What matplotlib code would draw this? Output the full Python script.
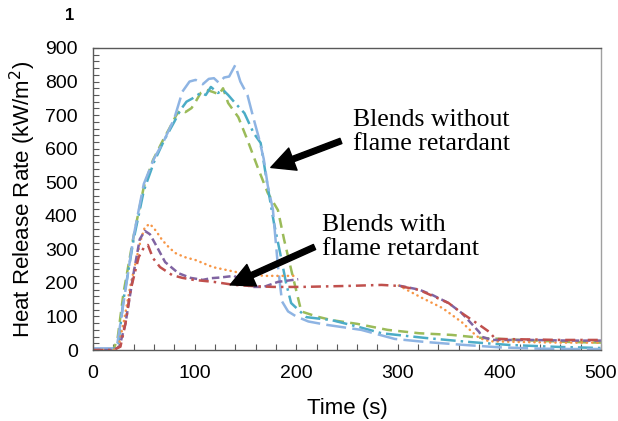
import numpy as np
import matplotlib.pyplot as plt
from matplotlib.ticker import MultipleLocator

nan = np.nan

# blends without flame retardant
t_blue = [0, 10, 20, 24, 30, 40, 50, 60, 70, 80, 88, 95, 101, 108, 114, 119, 124, 129, 134, 140,
          145, 152, 158, 163, 168, 172, 177, 182, 186, 192, 200, 212, 230, 264, 297, 327, 366, 400, 440, 470, 500]
v_blue = [5, 5, 5, 20, 140, 340, 495, 570, 625, 690, 770, 800, 805, 792, 808, 810, 796, 812, 815, 849,
          800, 760, 690, 635, 570, 490, 420, 250, 145, 115, 100, 85, 75, 60, 33, 24, 15, 8, 4, 3, 3]

t_teal = [0, 10, 20, 25, 30, 40, 50, 60, 70, 80, 86, 92, 98, 106, 111, 116, 123, 128, 133, 139,
          149, 158, 165, 172, 178, 185, 190, 195, 202, 210, 235, 260, 284, 327, 370, 410, 460, 500]
v_teal = [0, 0, 2, 20, 150, 330, 475, 560, 625, 680, 715, 740, 750, 766, 760, 784, 766, 775, 760, 739,
          706, 647, 617, 486, 380, 277, 200, 140, 120, 98, 89, 70, 50, 36, 24, 15, 9, 6]

t_green = [0, 10, 20, 24, 30, 40, 50, 59, 69, 76, 82, 86, 91, 97, 101, 106, 112, 118, 124, 128,
           133, 143, 152, 162, 172, 182, 188, 195, 205, 220, 235, 260, 290, 321, 353, 383, 420, 469, 500]
v_green = [0, 0, 2, 30, 170, 340, 486, 566, 626, 665, 700, 715, 709, 721, 740, 766, 775, 769, 762, 780,
           736, 694, 626, 545, 468, 417, 330, 240, 115, 100, 89, 78, 60, 50, 45, 36, 30, 24, 22]

# blends with flame retardant
t_orange = [0, 10, 20, 25, 30, 37, 47, 51, 56, 62, 68, 75, 81, 90, 101, 118, 129, 146, 168, 185, 202,
            250, 301, 324, 344, 363, 373, 380, 390, 420, 460, 500]
v_orange = [0, 0, 0, 10, 80, 195, 328, 366, 376, 355, 328, 305, 289, 277, 268, 247, 240, 229, 221, 221, 221,
            nan, 192, 155, 125, 83, 54, 36, 26, 24, 22, 22]

t_purple = [0, 10, 20, 26, 32, 40, 46, 51, 56, 61, 71, 84, 96, 108, 116, 125, 139, 155, 168, 182, 202,
            250, 301, 321, 334, 350, 363, 380, 383, 393, 430, 470, 500]
v_purple = [0, 0, 0, 10, 80, 230, 330, 355, 345, 318, 262, 229, 215, 209, 214, 216, 221, 188, 188, 203, 211,
            nan, 192, 180, 164, 140, 110, 54, 39, 30, 30, 28, 28]

t_red = [0, 10, 20, 27, 32, 37, 45, 50, 54, 59, 66, 78, 88, 99, 119, 139, 160, 178, 205, 251, 284,
         301, 321, 350, 363, 383, 390, 396, 420, 460, 500]
v_red = [0, 0, 0, 10, 80, 179, 277, 305, 313, 274, 247, 223, 215, 209, 203, 194, 190, 188, 188, 191, 194,
         191, 179, 140, 110, 69, 54, 33, 32, 30, 30]

plt.rcParams['font.family'] = ['Liberation Sans', 'DejaVu Sans']

fig = plt.figure(figsize=(6.18, 4.21), dpi=100)
ax = fig.add_axes([0.1505, 0.1686, 0.822, 0.7174])

lw = 1.8
ax.plot(t_green, v_green, color='#9BBB59', lw=lw, dashes=(4, 2.5))
ax.plot(t_teal, v_teal, color='#4BACC6', lw=lw, dashes=(6, 2, 1, 2))
ax.plot(t_blue, v_blue, color='#8EB4E3', lw=lw, dashes=(8, 2.5))
ax.plot(t_orange, v_orange, color='#F79646', lw=lw, dashes=(0.1, 2), dash_capstyle='round')
ax.plot(t_purple, v_purple, color='#8064A2', lw=lw, dashes=(3, 1.5))
ax.plot(t_red, v_red, color='#C0504D', lw=lw, dashes=(4, 2, 1, 2))

ax.set_xlim(0, 500)
ax.set_ylim(0, 900)
ax.xaxis.set_major_locator(MultipleLocator(100))
ax.xaxis.set_minor_locator(MultipleLocator(20))
ax.yaxis.set_major_locator(MultipleLocator(100))
ax.yaxis.set_minor_locator(MultipleLocator(20))
ax.tick_params(which='both', direction='in', length=4, width=0.8, color='#595959')
ax.tick_params(axis='x', which='major', labelsize=14, pad=11)
ax.tick_params(axis='y', which='major', labelsize=14, pad=11)
for s in ax.spines.values():
    s.set_color('#595959')
    s.set_linewidth(1)
ax.spines['right'].set_color('#a0a0a0')

ax.set_xlabel('Time (s)', fontsize=16, labelpad=11)
ax.set_ylabel('Heat Release Rate (kW/m$^2$)', fontsize=16, labelpad=5)

arrow = dict(facecolor='black', edgecolor='black', width=4, headwidth=17, headlength=17, shrink=0)
ax.annotate('', xy=(175, 544), xytext=(244, 623), arrowprops=arrow)
ax.annotate('', xy=(135, 194), xytext=(218, 307), arrowprops=arrow)

serif = ['Liberation Serif', 'DejaVu Serif']
ax.text(256, 650, 'Blends without\nflame retardant', fontsize=18.5, family=serif,
        va='center', ha='left', linespacing=1.15)
ax.text(225, 337, 'Blends with\nflame retardant', fontsize=18.5, family=serif,
        va='center', ha='left', linespacing=1.15)

fig.text(70 / 618, 1 - 15 / 421, '1', fontsize=12, fontweight='bold', ha='center', va='center')

plt.savefig('out.png', dpi=100)
